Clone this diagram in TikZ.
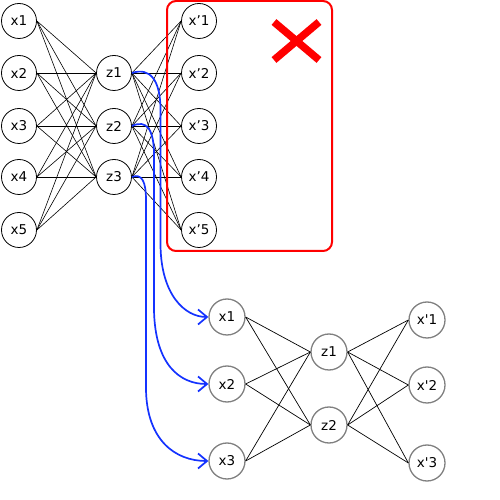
\documentclass[tikz,border=0pt]{standalone}
\usepackage{fontspec}
\newfontfamily\lblfont{DejaVu Sans}
\usetikzlibrary{arrows.meta}
\begin{document}
\begin{tikzpicture}[x=1pt,y=1pt,
  topn/.style={circle,draw=black,line width=0.8pt,minimum size=35pt,inner sep=0pt,font=\lblfont\fontsize{13.5}{15}\selectfont},
  botn/.style={circle,draw=black!50,line width=1.3pt,minimum size=36pt,inner sep=0pt,font=\lblfont\fontsize{13.5}{15}\selectfont},
  edge/.style={draw=black,line width=0.6pt},
  bedge/.style={draw=black,line width=0.7pt},
  blueflow/.style={draw={rgb,255:red,20;green,50;blue,255},line width=1.7pt,-{Straight Barb[length=9pt,width=15pt]}},
  redbox/.style={draw={rgb,255:red,255;green,0;blue,0},line width=2pt,rounded corners=9pt},
  redx/.style={draw={rgb,255:red,255;green,0;blue,0},line width=7.5pt}
]
\useasboundingbox (0,0) rectangle (500,500);
% top network
\node[topn] (x1) at (19,479) {x1};
\node[topn] (x2) at (19,427) {x2};
\node[topn] (x3) at (19,374) {x3};
\node[topn] (x4) at (19,323) {x4};
\node[topn] (x5) at (19,270) {x5};
\node[topn] (z1) at (114,427) {z1};
\node[topn] (z2) at (114,374) {z2};
\node[topn] (z3) at (114,323) {z3};
\node[topn] (xp1) at (199,479) {x’1};
\node[topn] (xp2) at (199,427) {x’2};
\node[topn] (xp3) at (199,374) {x’3};
\node[topn] (xp4) at (199,323) {x’4};
\node[topn] (xp5) at (199,270) {x’5};
\foreach \i in {1,...,5}{
  \foreach \j in {1,2,3}{
    \draw[edge] (x\i.east) -- (z\j.west);
    \draw[edge] (z\j.east) -- (xp\i.west);
  }
}
% red box and cross
\draw[redbox] (167,249) rectangle (332,499);
\draw[redx] (274,478) -- (319,440);
\draw[redx] (319,478) -- (274,440);
% bottom network
\node[botn] (bx1) at (227,183) {x1};
\node[botn] (bx2) at (227,116) {x2};
\node[botn] (bx3) at (227,39) {x3};
\node[botn] (bz1) at (329,148) {z1};
\node[botn] (bz2) at (329,75) {z2};
\node[botn] (bxp1) at (427,180) {x'1};
\node[botn] (bxp2) at (427,115) {x'2};
\node[botn] (bxp3) at (427,37) {x'3};
\foreach \i in {1,2,3}{
  \foreach \j in {1,2}{
    \draw[bedge] (bx\i.east) -- (bz\j.west);
    \draw[bedge] (bz\j.east) -- (bxp\i.west);
  }
}
% blue arrows
\draw[blueflow] (z1.east) .. controls (150,433) and (160.5,420) .. (160.5,390) -- (160.5,255) .. controls (161,205) and (185,183) .. (bx1.west);
\draw[blueflow] (z2.east) .. controls (147,381) and (154,370) .. (154,345) -- (154,190) .. controls (155,135) and (180,116) .. (bx2.west);
\draw[blueflow] (z3.east) .. controls (142,327) and (146,318) .. (146,300) -- (146,110) .. controls (147,60) and (175,39) .. (bx3.west);
\end{tikzpicture}
\end{document}
